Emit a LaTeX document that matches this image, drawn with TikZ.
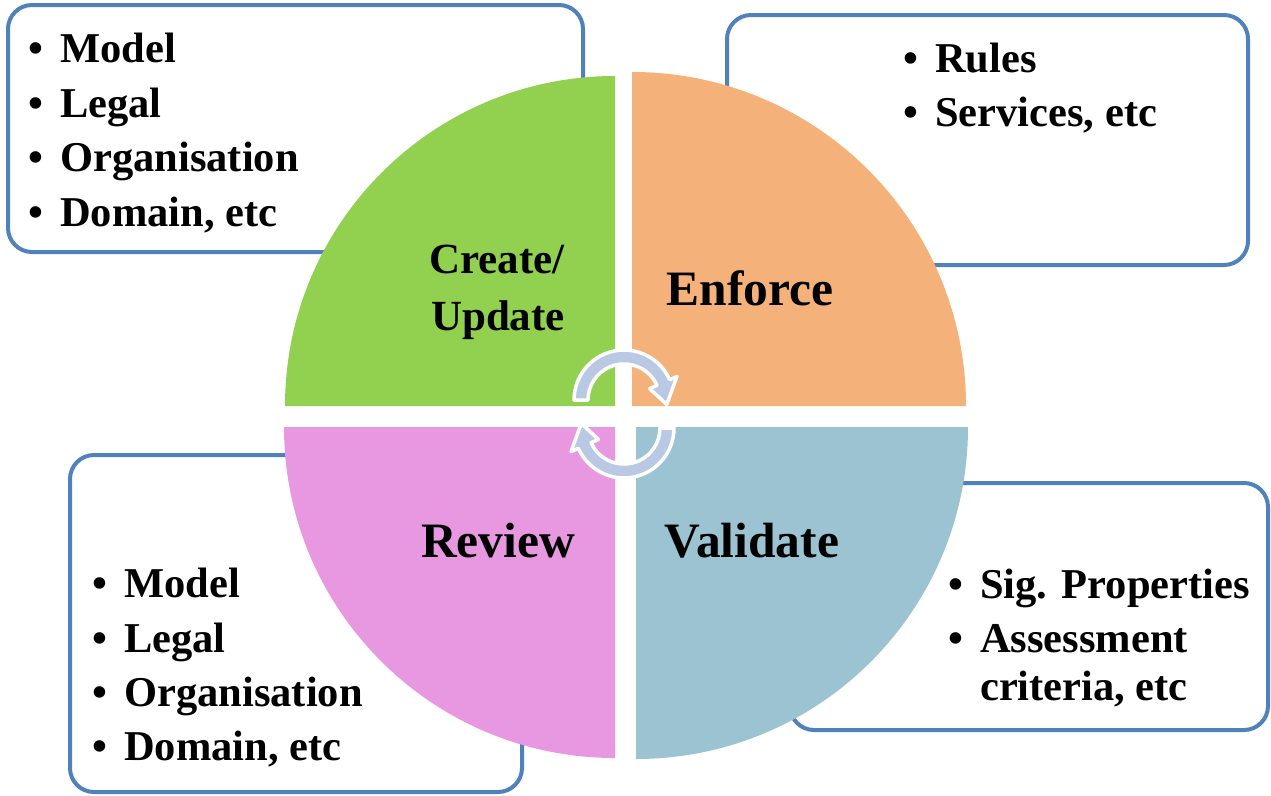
\documentclass[tikz,border=0pt]{standalone}
\usepackage{fontspec}
\setmainfont{Liberation Serif}
\definecolor{qgreen}{RGB}{146,208,80}
\definecolor{qorange}{RGB}{244,177,122}
\definecolor{qpink}{RGB}{232,152,224}
\definecolor{qblue}{RGB}{155,195,209}
\definecolor{boxblue}{RGB}{79,129,189}
\definecolor{arrowfill}{RGB}{185,201,227}
\tikzset{
  infobox/.style={draw=boxblue, line width=4pt, fill=white, rounded corners=24pt},
  cyc/.style={fill=arrowfill, draw=white, line width=3.5pt, line join=round},
  bul/.style={anchor=base west, inner sep=0pt, font=\fontsize{42.5}{50}\selectfont\bfseries},
  item/.style={anchor=base west, inner sep=0pt, font=\fontsize{42.5}{50}\selectfont\bfseries},
  biglab/.style={anchor=base, inner sep=0pt, font=\fontsize{49.5}{55}\selectfont\bfseries},
  midlab/.style={anchor=base, inner sep=0pt, font=\fontsize{43}{50}\selectfont\bfseries},
}
\begin{document}
\begin{tikzpicture}[x=1pt,y=-1pt]
\useasboundingbox (0,0) rectangle (1271,795);
% boxes
\draw[infobox] (8,5) rectangle (583,252);
\draw[infobox] (727,15) rectangle (1248,265);
\draw[infobox] (70,455) rectangle (522,792);
\draw[infobox] (790,483) rectangle (1268,730);
% quadrants
\fill[qgreen] (615,406) -- ++(-330,0) arc[start angle=180,end angle=270,radius=330] -- cycle;
\fill[qorange] (632,406) -- ++(0,-334) arc[start angle=270,end angle=360,radius=334] -- cycle;
\fill[qpink] (615,427) -- ++(0,331) arc[start angle=90,end angle=180,radius=331] -- cycle;
\fill[qblue] (636,427) -- ++(332,0) arc[start angle=0,end angle=90,radius=332] -- cycle;
% cycle arrows
\coordinate (c1) at (624,400);
\coordinate (c2) at (624,428);
\draw[cyc] ([shift={(c1)}]180:50) arc[start angle=180,end angle=336,radius=50]
  -- ([shift={(c1)}]336:58) -- ([shift={(c1)}]6:43) -- ([shift={(c1)}]336:28)
  -- ([shift={(c1)}]336:36) arc[start angle=336,end angle=180,radius=36] -- cycle;
\draw[cyc] ([shift={(c2)}]0:50) arc[start angle=0,end angle=156,radius=50]
  -- ([shift={(c2)}]156:58) -- ([shift={(c2)}]186:43) -- ([shift={(c2)}]156:28)
  -- ([shift={(c2)}]156:36) arc[start angle=156,end angle=0,radius=36] -- cycle;
% quadrant labels
\node[midlab] (create) at (497,273) {Create/};
\node[midlab] (update) at (498,330) {Update};
\node[biglab] (enforce) at (750,305) {Enforce};
\node[biglab] (review) at (498,557) {Review};
\node[biglab] (validate) at (752,557) {Validate};
% top-left list
\node[bul] (b1) at (28,62) {•};  \node[item] (t1) at (60,62) {Model};
\node[bul] (b2) at (28,117) {•}; \node[item] (t2) at (60,117) {Legal};
\node[bul] (b3) at (28,171) {•}; \node[item] (t3) at (60,171) {Organisation};
\node[bul] (b4) at (28,226) {•}; \node[item] (t4) at (60,226) {Domain, etc};
% top-right list
\node[bul] (b5) at (903,72) {•};  \node[item] (t5) at (935,72) {Rules};
\node[bul] (b6) at (903,126) {•}; \node[item] (t6) at (935,126) {Services, etc};
% bottom-left list
\node[bul] (b7) at (92,597) {•};  \node[item] (t7) at (124,597) {Model};
\node[bul] (b8) at (92,652) {•};  \node[item] (t8) at (124,652) {Legal};
\node[bul] (b9) at (92,706) {•};  \node[item] (t9) at (124,706) {Organisation};
\node[bul] (b10) at (92,760) {•}; \node[item] (t10) at (124,760) {Domain, etc};
% bottom-right list
\node[bul] (b11) at (948,598) {•}; \node[item] (t11) at (980,598) {Sig. Properties};
\node[bul] (b12) at (948,652) {•}; \node[item] (t12) at (980,652) {Assessment};
\node[item] (t13) at (980,700) {criteria, etc};
\end{tikzpicture}
\end{document}
